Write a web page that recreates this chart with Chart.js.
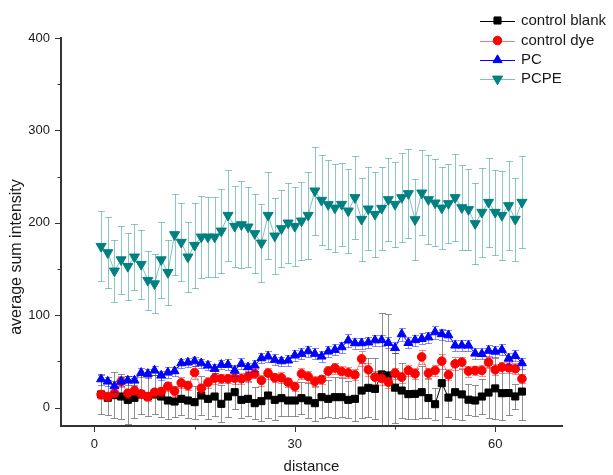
<!DOCTYPE html>
<html>
<head>
<meta charset="utf-8">
<style>
  html, body { margin: 0; padding: 0; background: #fff; }
  #wrap { width: 613px; height: 475px; position: relative; }
</style>
<script src="https://cdn.jsdelivr.net/npm/chart.js@4.4.0/dist/chart.umd.min.js"></script>
</head>
<body>
<div id="wrap"><canvas id="c" width="613" height="475"></canvas></div>
<script>
// ---- data ----
const distance = [1, 2, 3, 4, 5, 6, 7, 8, 9, 10, 11, 12, 13, 14, 15, 16, 17, 18, 19, 20,
  21, 22, 23, 24, 25, 26, 27, 28, 29, 30, 31, 32, 33, 34, 35, 36, 37, 38, 39, 40,
  41, 42, 43, 44, 45, 46, 47, 48, 49, 50, 51, 52, 53, 54, 55, 56, 57, 58, 59, 60,
  61, 62, 63, 64];

const controlBlank = [14.1, 10.5, 13.4, 11.9, 8.3, 10.5, 14.1, 11.9, 14.1, 11.9,
  7.6, 6.5, 9.4, 7.6, 5.8, 13.0, 9.4, 11.9, 4.0, 11.9,
  16.6, 8.3, 9.4, 4.7, 6.9, 13.0, 8.3, 10.1, 7.6, 7.6,
  10.1, 7.6, 4.7, 11.2, 9.4, 11.2, 11.2, 8.3, 9.4, 18.4,
  21.3, 20.2, 35.8, 34.7, 21.5, 18.4, 14.5, 14.8, 16.6, 10.3,
  3.6, 26.4, 10.8, 16.6, 14.2, 8.5, 7.6, 11.9, 16.2, 20.7,
  15.5, 15.7, 12.0, 17.3];
const controlBlankErr = [21, 19, 25, 24, 26, 22, 21, 21, 21, 22,
  20, 17, 18, 19, 18, 21, 22, 21, 20, 22,
  18, 20, 19, 17, 21, 24, 22, 19, 17, 17,
  17, 19, 19, 23, 20, 22, 21, 20, 24, 30,
  32, 33, 67, 67, 38, 30, 27, 27, 28, 22,
  17, 57, 21, 29, 28, 17, 17, 19, 28, 33,
  29, 24, 14, 31];

const controlDye = [14.1, 11.9, 15.5, 28.2, 15.5, 18.4, 14.8, 11.9, 16.6, 17.3,
  23.1, 17.7, 26.7, 23.8, 37.9, 20.9, 27.1, 31.8, 31.1, 31.1,
  31.8, 31.1, 33.6, 36.5, 29.3, 37.2, 32.2, 32.2, 27.5, 22.8,
  36.5, 33.6, 28.2, 30.4, 39.4, 42.7, 39.0, 37.6, 35.4, 52.7,
  40.8, 32.9, 31.5, 27.5, 37.2, 32.9, 40.1, 36.5, 54.8, 37.2,
  40.1, 50.2, 35.4, 47.3, 49.1, 39.4, 40.1, 40.1, 49.1, 40.8,
  43.7, 43.0, 41.9, 31.1];
const controlDyeErr = [5, 5, 4, 6, 5, 5, 4, 5, 5, 5,
  5, 5, 6, 5, 7, 5, 6, 6, 5, 5,
  6, 6, 6, 5, 6, 6, 5, 6, 5, 5,
  6, 6, 6, 5, 6, 6, 6, 6, 6, 8,
  7, 7, 7, 6, 6, 6, 6, 6, 8, 6,
  6, 8, 6, 7, 6, 6, 5, 6, 6, 6,
  6, 6, 6, 5];

const pc = [30.7, 28.2, 23.1, 28.2, 29.3, 29.3, 37.6, 36.5, 40.1, 34.7,
  37.9, 39.4, 48.0, 48.8, 50.2, 48.0, 45.5, 41.9, 46.3, 46.3,
  40.0, 47.3, 43.7, 45.5, 53.5, 55.3, 51.7, 50.2, 51.0, 56.4,
  58.2, 61.1, 58.2, 55.3, 60.7, 62.5, 65.4, 72.6, 69.7, 69.7,
  70.5, 72.8, 73.0, 70.0, 64.5, 79.5, 70.0, 73.0, 74.4, 76.0,
  81.6, 79.5, 78.3, 67.2, 67.2, 67.2, 58.5, 58.0, 61.5, 60.5,
  62.5, 53.0, 56.0, 48.0];
const pcErr = [6, 5, 6, 5, 5, 5, 5, 5, 5, 5,
  6, 5, 5, 5, 5, 5, 5, 5, 5, 6,
  6, 6, 5, 6, 5, 6, 6, 5, 6, 6,
  6, 6, 6, 6, 6, 6, 6, 7, 6, 6,
  6, 6, 6, 6, 6, 7, 6, 6, 6, 6,
  7, 6, 6, 6, 6, 6, 6, 6, 6, 6,
  6, 6, 6, 6];

const pcpe = [174.5, 167.7, 147.8, 160.0, 152.8, 163.0, 155.0, 137.7, 134.0, 160.0,
  146.3, 187.2, 178.9, 163.0, 175.6, 184.6, 184.6, 184.6, 191.1, 208.1,
  196.2, 198.0, 195.5, 188.3, 178.1, 208.1, 185.7, 193.7, 199.8, 196.2,
  202.0, 208.1, 234.5, 224.4, 219.7, 216.0, 220.0, 212.8, 227.3, 203.8,
  215.0, 209.2, 215.7, 225.1, 220.0, 227.3, 231.6, 203.4, 232.3, 225.1,
  221.5, 216.0, 220.8, 227.3, 216.4, 214.3, 199.1, 211.4, 222.2, 211.4,
  208.1, 218.6, 203.8, 222.2];
const pcpeErr = [38, 38, 34, 37, 36, 36, 37, 32, 32, 41,
  35, 44, 42, 38, 46, 44, 43, 43, 45, 49,
  44, 47, 43, 43, 42, 47, 41, 42, 43, 43,
  42, 47, 48, 49, 48, 48, 45, 45, 45, 45,
  45, 46, 45, 45, 46, 48, 48, 44, 46, 48,
  47, 44, 43, 47, 46, 44, 44, 48, 48, 46,
  48, 48, 45, 50];

const xTicks = [0, 30, 60];
const xMinorTicks = [15, 45];
const yTicks = [0, 100, 200, 300, 400];
const yMinorTicks = [50, 150, 250, 350];

// ---- styles ----
const FONT = '"Liberation Sans", Arial, Helvetica, sans-serif';
const TEXT = '#1a1a1a';

const seriesStyle = [
  { label: 'control blank', values: controlBlank, errors: controlBlankErr,
    color: '#000000', line: '#000000', bar: 'rgba(70,70,70,0.6)',
    pointStyle: 'rect', radius: 5, rotation: 0, order: 4 },
  { label: 'control dye', values: controlDye, errors: controlDyeErr,
    color: '#ff0000', line: 'rgba(255,60,60,0.7)', bar: 'rgba(255,0,0,0.45)',
    pointStyle: 'circle', radius: 4.3, rotation: 0, order: 3 },
  { label: 'PC', values: pc, errors: pcErr,
    color: '#0000ff', line: '#0000ff', bar: 'rgba(0,0,255,0.45)',
    pointStyle: 'triangle', radius: 5.2, rotation: 0, order: 2 },
  { label: 'PCPE', values: pcpe, errors: pcpeErr,
    color: '#008080', line: 'rgba(0,128,128,0.5)', bar: 'rgba(0,128,128,0.45)',
    pointStyle: 'triangle', radius: 5.8, rotation: 180, order: 1 }
];

const datasets = seriesStyle.map(s => ({
  label: s.label,
  data: distance.map((x, i) => ({ x: x, y: s.values[i] })),
  errors: s.errors,
  barColor: s.bar,
  borderColor: s.line,
  backgroundColor: s.color,
  borderWidth: 1,
  pointStyle: s.pointStyle,
  pointRadius: s.radius,
  pointRotation: s.rotation,
  pointBackgroundColor: s.color,
  pointBorderColor: s.color,
  pointBorderWidth: 1,
  tension: 0,
  fill: false,
  order: s.order
}));

// error bars, drawn just before each series' own line and markers
const errorBars = {
  id: 'errorBars',
  beforeDatasetDraw(chart, args) {
    const ds = chart.data.datasets[args.index];
    const xs = chart.scales.x, ys = chart.scales.y;
    const area = chart.chartArea;
    const ctx = chart.ctx;
    ctx.save();
    ctx.beginPath();
    ctx.rect(area.left, area.top - 10, area.right - area.left, area.bottom - area.top + 10);
    ctx.clip();
    ctx.strokeStyle = ds.barColor;
    ctx.lineWidth = 1;
    const cap = 3.5;
    ds.data.forEach((p, i) => {
      const e = ds.errors[i];
      const px = Math.round(xs.getPixelForValue(p.x)) + 0.5;
      const yTop = Math.round(ys.getPixelForValue(p.y + e)) + 0.5;
      const yBot = Math.round(ys.getPixelForValue(p.y - e)) + 0.5;
      ctx.beginPath();
      ctx.moveTo(px, yTop); ctx.lineTo(px, yBot);
      ctx.moveTo(px - cap, yTop); ctx.lineTo(px + cap, yTop);
      ctx.moveTo(px - cap, yBot); ctx.lineTo(px + cap, yBot);
      ctx.stroke();
    });
    ctx.restore();
  }
};

// tick marks, axis titles and the legend block
const decorations = {
  id: 'decorations',
  afterDraw(chart) {
    const ctx = chart.ctx;
    const xs = chart.scales.x, ys = chart.scales.y;
    const area = chart.chartArea;
    ctx.save();
    ctx.strokeStyle = '#333';
    ctx.lineWidth = 1;
    ctx.beginPath();
    xTicks.forEach(v => {
      const px = Math.round(xs.getPixelForValue(v)) + 0.5;
      ctx.moveTo(px, area.bottom); ctx.lineTo(px, area.bottom + 6);
    });
    xMinorTicks.forEach(v => {
      const px = Math.round(xs.getPixelForValue(v)) + 0.5;
      ctx.moveTo(px, area.bottom); ctx.lineTo(px, area.bottom + 3.5);
    });
    yTicks.forEach(v => {
      const py = Math.round(ys.getPixelForValue(v)) + 0.5;
      ctx.moveTo(area.left, py); ctx.lineTo(area.left - 6, py);
    });
    yMinorTicks.forEach(v => {
      const py = Math.round(ys.getPixelForValue(v)) + 0.5;
      ctx.moveTo(area.left, py); ctx.lineTo(area.left - 3.5, py);
    });
    ctx.stroke();

    // axis titles
    ctx.fillStyle = TEXT;
    ctx.font = '15px ' + FONT;
    ctx.textAlign = 'center';
    ctx.textBaseline = 'middle';
    ctx.fillText('distance', (area.left + area.right) / 2, 467);
    ctx.save();
    ctx.translate(17, 257);
    ctx.rotate(-Math.PI / 2);
    ctx.font = '16px ' + FONT;
    ctx.fillText('average sum intensity', 0, 0);
    ctx.restore();

    // legend
    const rowY = [20.5, 40.5, 60, 79];
    seriesStyle.forEach((s, i) => {
      const y = rowY[i];
      ctx.strokeStyle = s.line;
      ctx.lineWidth = 1;
      ctx.beginPath();
      ctx.moveTo(480, Math.round(y) + 0.5);
      ctx.lineTo(515, Math.round(y) + 0.5);
      ctx.stroke();
      ctx.fillStyle = s.color;
      ctx.strokeStyle = s.color;
      Chart.helpers.drawPoint(ctx, {
        pointStyle: s.pointStyle, radius: s.radius, rotation: s.rotation, borderWidth: 1
      }, 497.5, y);
      ctx.fillStyle = TEXT;
      ctx.font = '15px ' + FONT;
      ctx.textAlign = 'left';
      ctx.textBaseline = 'middle';
      ctx.fillText(s.label, 521, y);
    });
    ctx.restore();
  }
};

new Chart(document.getElementById('c'), {
  type: 'line',
  data: { datasets: datasets },
  options: {
    responsive: false,
    devicePixelRatio: 1,
    animation: false,
    events: [],
    layout: { padding: { top: 38, right: 51, left: 0, bottom: 0 } },
    plugins: { legend: { display: false }, tooltip: { enabled: false } },
    scales: {
      x: {
        type: 'linear',
        min: -5, max: 70,
        grid: { display: false, drawTicks: false },
        border: { display: true, color: '#333', width: 2 },
        ticks: { padding: 11, color: TEXT, font: { family: FONT, size: 13 } },
        afterBuildTicks: scale => { scale.ticks = xTicks.map(v => ({ value: v })); },
        afterFit: scale => { scale.height = 49; }
      },
      y: {
        type: 'linear',
        min: -20, max: 400,
        grid: { display: false, drawTicks: false },
        border: { display: true, color: '#333', width: 2 },
        ticks: { padding: 11, color: TEXT, font: { family: FONT, size: 13 } },
        afterBuildTicks: scale => { scale.ticks = yTicks.map(v => ({ value: v })); },
        afterFit: scale => { scale.width = 61; }
      }
    }
  },
  plugins: [errorBars, decorations]
});
</script>
</body>
</html>
